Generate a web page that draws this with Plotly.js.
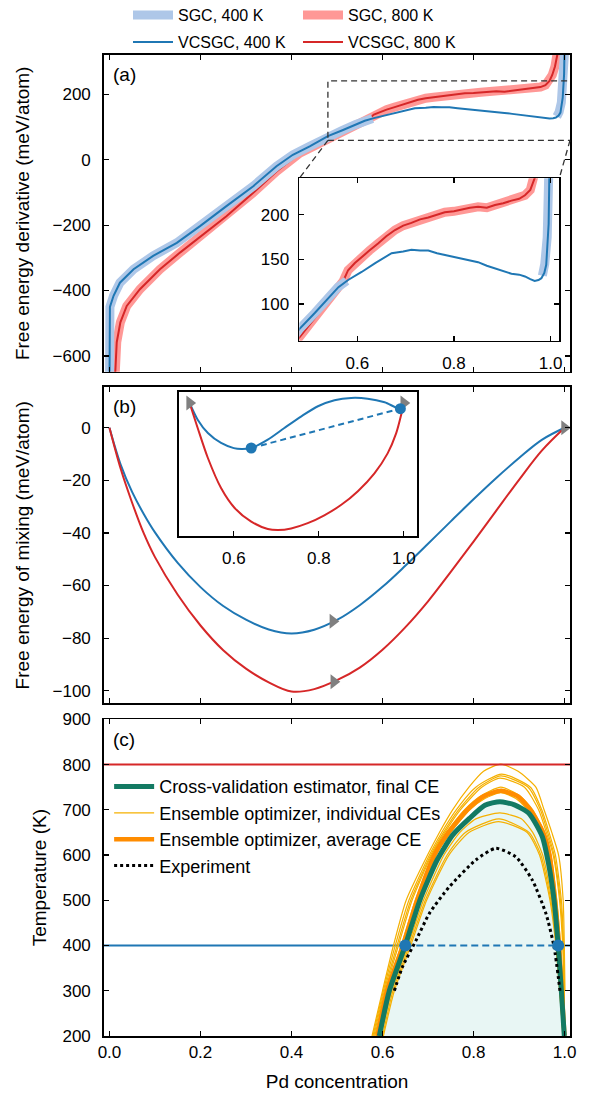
<!DOCTYPE html>
<html><head><meta charset="utf-8">
<script src="https://cdn.plot.ly/plotly-3.0.1.min.js"></script>
<style>body{margin:0;background:#fff}#chart{width:589px;height:1093px}</style>
</head><body><div id="chart"></div>
<script>
// ---------- Panel (a): free energy derivative (meV/atom) vs Pd concentration
const vc400_x = [0.0, 0.001, 0.009, 0.023, 0.053, 0.096, 0.148, 0.199, 0.257, 0.316, 0.367, 0.403, 0.44, 0.48, 0.512, 0.54, 0.561, 0.581, 0.609, 0.637, 0.671, 0.695, 0.712, 0.73, 0.747, 0.765, 0.781, 0.80, 0.816, 0.833, 0.85, 0.868, 0.885, 0.902, 0.919, 0.935, 0.947, 0.958, 0.967, 0.975, 0.981, 0.987, 0.991, 0.996, 0.999, 1.0];
const vc400_y = [-700, -450, -416, -376, -335, -294, -254, -203, -142, -81, -20, 15, 41, 72, 90, 107, 119, 127, 136, 146, 157, 159, 161, 160, 160, 157, 155, 153, 151, 149, 147, 143, 140, 137, 134, 133, 131, 128, 126, 127, 129, 135, 144, 190, 260, 340];
const sgc400_x = [0.0, 0.001, 0.009, 0.023, 0.053, 0.096, 0.148, 0.199, 0.257, 0.316, 0.367, 0.403, 0.44, 0.48, 0.512, 0.54, 0.56, 0.578, null, 0.983, 0.988, 0.993, 0.997, 1.0];
const sgc400_y = [-700, -450, -416, -376, -335, -294, -254, -203, -142, -81, -20, 15, 41, 72, 90, 107, 119, 126, null, 132, 145, 175, 225, 330];
const vc800_x = [0.011, 0.0125, 0.016, 0.024, 0.038, 0.067, 0.111, 0.155, 0.206, 0.257, 0.316, 0.367, 0.418, 0.45, 0.485, 0.52, 0.55, 0.571, 0.581, 0.595, 0.609, 0.625, 0.643, 0.66, 0.678, 0.695, 0.712, 0.73, 0.747, 0.765, 0.781, 0.80, 0.816, 0.833, 0.85, 0.868, 0.885, 0.902, 0.919, 0.935, 0.947, 0.958, 0.967, 0.973, 0.979, 0.984, 0.99];
const vc800_y = [-700, -645, -558, -497, -447, -396, -335, -284, -228, -173, -101, -36, 20, 42, 66, 90, 110, 126, 138, 146, 153, 160, 168, 176, 183, 188, 191, 195, 197, 200, 203, 204, 206, 208, 209, 208, 211, 213, 216, 218, 222, 228, 241, 259, 285, 320, 380];
const sgc800_x = vc800_x;
const sgc800_y = vc800_y;
const zoomWin_x = [0.48, 1.018];
const zoomWin_y = [59, 241];

// ---------- Panel (b): free energy of mixing (meV/atom)
const fm400_x = [0, 0.025, 0.05, 0.075, 0.1, 0.15, 0.2, 0.25, 0.3, 0.35, 0.4, 0.45, 0.5, 0.55, 0.6, 0.65, 0.7, 0.75, 0.8, 0.85, 0.9, 0.95, 1.0];
const fm400_y = [0, -14.2, -24.5, -32.7, -39.8, -51.4, -60.6, -67.8, -73.0, -76.7, -78.2, -76.8, -73.1, -67.5, -60.5, -52.5, -44.1, -35.6, -27.2, -19.1, -11.5, -4.6, 0];
const fm800_x = [0, 0.025, 0.05, 0.075, 0.1, 0.15, 0.2, 0.25, 0.3, 0.35, 0.4, 0.45, 0.5, 0.55, 0.6, 0.65, 0.7, 0.75, 0.8, 0.85, 0.9, 0.95, 1.0];
const fm800_y = [0, -15.8, -28.6, -40.0, -49.2, -63.5, -75.2, -84.6, -91.6, -96.8, -100.3, -99.4, -96.0, -91.2, -84.4, -75.9, -66.0, -54.8, -43.3, -31.5, -19.8, -8.7, 0];
const fmMark_x = [0.491, 0.493, 1.0];
const fmMark_y = [-73.6, -96.6, 0];
// inset (b): mixing free energy relative to the chord between the triangle markers
const inb400_x = [0.496, 0.515, 0.539, 0.570, 0.60, 0.618, 0.641, 0.680, 0.719, 0.759, 0.798, 0.837, 0.876, 0.915, 0.955, 0.992, 1.0];
const inb400_y = [0, -1.59, -2.86, -3.81, -4.3, -4.38, -4.29, -3.49, -2.38, -1.27, -0.31, 0.26, 0.48, 0.41, 0.07, -0.54, 0];
const inb800_x = [0.496, 0.515, 0.539, 0.570, 0.602, 0.641, 0.680, 0.704, 0.735, 0.774, 0.813, 0.853, 0.892, 0.931, 0.962, 0.982, 0.994, 1.0];
const inb800_y = [0, -2.38, -5.24, -8.1, -10, -11.3, -12.0, -12.1, -11.95, -11.45, -10.7, -9.7, -8.4, -6.7, -4.8, -2.9, -1.1, 0];
const inbTan_x = [0.641, 0.992];
const inbTan_y = [-4.29, -0.54];
const inbMark_x = [0.496, 1.0];
const inbMark_y = [0, 0];
const inb_xRange = [0.470, 1.0315];
const inb_yRange = [-12.67, 1.02];

// ---------- Panel (c): phase diagram, temperature (K)
const simTemps = [400, 800];
const gap400_x = [0.650, 0.986];
const ce_x = [0.593, 0.615, 0.650, 0.682, 0.720, 0.754, 0.791, 0.825, 0.858, 0.890, 0.922, 0.951, 0.965, 0.977, 0.986, 0.993, 0.9995];
const ce_y = [200, 300, 400, 500, 589, 644, 681, 710, 718, 711, 692, 641, 580, 500, 400, 300, 200];
const avg_x = [0.589, 0.610, 0.645, 0.676, 0.714, 0.745, 0.786, 0.822, 0.860, 0.897, 0.925, 0.953, 0.967, 0.979, 0.988, 0.994, 0.9998];
const avg_y = [200, 300, 400, 500, 600, 650, 700, 730, 742, 730, 700, 650, 600, 500, 400, 300, 200];
const ind1_x = [0.577, 0.600, 0.624, 0.652, 0.699, 0.725, 0.754, 0.790, 0.822, 0.860, 0.898, 0.937, 0.955, 0.972, 0.987, 0.997, 0.9995, 1.001];
const ind1_y = [200, 300, 400, 500, 600, 650, 700, 750, 785, 801, 785, 750, 700, 650, 600, 500, 400, 300];
const ind2_x = [0.579, 0.602, 0.628, 0.658, 0.703, 0.730, 0.762, 0.805, 0.862, 0.925, 0.950, 0.966, 0.980, 0.993, 0.998, 0.9995, 1.0];
const ind2_y = [200, 300, 400, 500, 600, 650, 700, 750, 779, 750, 700, 650, 600, 500, 400, 300, 200];
const ind3_x = [0.581, 0.604, 0.632, 0.662, 0.706, 0.734, 0.767, 0.812, 0.860, 0.920, 0.947, 0.963, 0.977, 0.991, 0.997, 0.999, 1.0];
const ind3_y = [200, 300, 400, 500, 600, 650, 700, 750, 775, 750, 700, 650, 600, 500, 400, 300, 200];
const ind4_x = [0.583, 0.606, 0.635, 0.665, 0.708, 0.737, 0.771, 0.818, 0.858, 0.912, 0.943, 0.960, 0.975, 0.989, 0.996, 0.999, 1.0];
const ind4_y = [200, 300, 400, 500, 600, 650, 700, 750, 770, 750, 700, 650, 600, 500, 400, 300, 200];
const ind5_x = [0.586, 0.608, 0.641, 0.672, 0.711, 0.740, 0.780, 0.815, 0.860, 0.903, 0.930, 0.956, 0.970, 0.983, 0.991, 0.996, 0.9998];
const ind5_y = [200, 300, 400, 500, 600, 650, 700, 730, 750, 730, 700, 650, 600, 500, 400, 300, 200];
const ind6_x = [0.588, 0.611, 0.646, 0.678, 0.716, 0.747, 0.789, 0.828, 0.862, 0.895, 0.922, 0.950, 0.965, 0.978, 0.987, 0.994, 0.9995];
const ind6_y = [200, 300, 400, 500, 600, 650, 700, 730, 745, 730, 700, 650, 600, 500, 400, 300, 200];
const ind7_x = [0.590, 0.612, 0.648, 0.680, 0.718, 0.750, 0.792, 0.825, 0.860, 0.893, 0.918, 0.948, 0.963, 0.977, 0.986, 0.993, 0.9995];
const ind7_y = [200, 300, 400, 500, 600, 650, 700, 725, 738, 725, 700, 650, 600, 500, 400, 300, 200];
const ind8_x = [0.597, 0.620, 0.656, 0.690, 0.735, 0.770, 0.805, 0.858, 0.905, 0.930, 0.952, 0.972, 0.983, 0.991, 0.998];
const ind8_y = [200, 300, 400, 500, 600, 650, 680, 693, 680, 650, 600, 500, 400, 300, 200];
const ind9_x = [0.600, 0.623, 0.659, 0.694, 0.742, 0.782, 0.856, 0.922, 0.948, 0.970, 0.982, 0.990, 0.997];
const ind9_y = [200, 300, 400, 500, 600, 650, 680, 650, 600, 500, 400, 300, 200];
const ind10_x = [0.602, 0.626, 0.662, 0.697, 0.746, 0.790, 0.855, 0.918, 0.945, 0.968, 0.981, 0.989, 0.997];
const ind10_y = [200, 300, 400, 500, 600, 650, 674, 650, 600, 500, 400, 300, 200];
const exp_x = [0.626, 0.644, 0.674, 0.703, 0.747, 0.805, 0.849, 0.893, 0.929, 0.959, 0.977, 0.990];
const exp_y = [300, 353, 412, 471, 530, 589, 615, 596, 545, 471, 397, 300];

const indiv_x = [ind1_x, ind2_x, ind3_x, ind4_x, ind5_x, ind6_x, ind7_x, ind8_x, ind9_x, ind10_x];
const indiv_y = [ind1_y, ind2_y, ind3_y, ind4_y, ind5_y, ind6_y, ind7_y, ind8_y, ind9_y, ind10_y];

// ---------- styling
const FONT = 'Liberation Sans, Arial, Helvetica, sans-serif';
const C_LB = '#aec7e8', C_B = '#1f77b4', C_LR = '#ff9896', C_R = '#d62728';
const C_GREEN = '#137a63', C_IND = '#f5b000', C_AVG = '#ff8c00', C_GRAY = '#808080';
const XR = [-0.012, 1.012];
const DOM = {
  a: [0.6772, 1.0], b: [0.3391, 0.6613], c: [0.0, 0.3228],
  ax: [0.4191, 0.977], ay: [0.7088, 0.8743],
  bx: [0.160, 0.672], by: [0.5097, 0.6562]
};

function ax(extra) {
  return Object.assign({
    showline: true, linecolor: '#000', linewidth: 1.8, mirror: 'ticks',
    ticks: 'inside', ticklen: 5, tickwidth: 1.2, tickcolor: '#000',
    showgrid: false, zeroline: false, tickfont: {size: 17}
  }, extra);
}

const traces = [];
function addA(xa, ya, main) {
  traces.push({x: sgc800_x, y: sgc800_y, xaxis: xa, yaxis: ya, mode: 'lines', line: {color: C_LR, width: 9},
    name: 'SGC, 800 K', legend: 'legend', legendrank: 2, showlegend: main});
  traces.push({x: vc800_x, y: vc800_y, xaxis: xa, yaxis: ya, mode: 'lines', line: {color: C_R, width: 2},
    name: 'VCSGC, 800 K', legend: 'legend3', legendrank: 2, showlegend: main});
  traces.push({x: sgc400_x, y: sgc400_y, xaxis: xa, yaxis: ya, mode: 'lines', line: {color: C_LB, width: 9},
    name: 'SGC, 400 K', legend: 'legend', legendrank: 1, showlegend: main, connectgaps: false});
  traces.push({x: vc400_x, y: vc400_y, xaxis: xa, yaxis: ya, mode: 'lines', line: {color: C_B, width: 2},
    name: 'VCSGC, 400 K', legend: 'legend3', legendrank: 1, showlegend: main});
}
addA('x', 'y', true);

// Panel (b) main
traces.push({x: fm400_x, y: fm400_y, xaxis: 'x2', yaxis: 'y2', mode: 'lines', line: {color: C_B, width: 2, shape: 'spline', smoothing: 1}, showlegend: false});
traces.push({x: fm800_x, y: fm800_y, xaxis: 'x2', yaxis: 'y2', mode: 'lines', line: {color: C_R, width: 2, shape: 'spline', smoothing: 1}, showlegend: false});
traces.push({x: fmMark_x, y: fmMark_y, xaxis: 'x2', yaxis: 'y2', mode: 'markers', marker: {symbol: 'triangle-right', size: 13, color: C_GRAY}, showlegend: false});

// Panel (c)
traces.push({x: ce_x, y: ce_y, xaxis: 'x3', yaxis: 'y3', mode: 'lines', fill: 'toself', fillcolor: '#e8f6f4', line: {width: 0, color: 'rgba(0,0,0,0)', shape: 'spline', smoothing: 0.6}, showlegend: false, hoverinfo: 'skip'});
traces.push({x: [XR[0], gap400_x[0]], y: [simTemps[0], simTemps[0]], xaxis: 'x3', yaxis: 'y3', mode: 'lines', line: {color: C_B, width: 2}, showlegend: false});
traces.push({x: [gap400_x[1], XR[1]], y: [simTemps[0], simTemps[0]], xaxis: 'x3', yaxis: 'y3', mode: 'lines', line: {color: C_B, width: 2}, showlegend: false});
traces.push({x: gap400_x, y: [simTemps[0], simTemps[0]], xaxis: 'x3', yaxis: 'y3', mode: 'lines', line: {color: C_B, width: 2, dash: '7px,4px'}, showlegend: false});
indiv_x.forEach(function (xs, i) {
  traces.push({x: xs, y: indiv_y[i], xaxis: 'x3', yaxis: 'y3', mode: 'lines', line: {color: C_IND, width: 1.2, shape: 'spline', smoothing: 0.6},
    name: 'Ensemble optimizer, individual CEs', legend: 'legend2', legendrank: 2, showlegend: i === 0, legendgroup: 'ind'});
});
traces.push({x: XR, y: [simTemps[1], simTemps[1]], xaxis: 'x3', yaxis: 'y3', mode: 'lines', line: {color: C_R, width: 2}, showlegend: false});
traces.push({x: avg_x, y: avg_y, xaxis: 'x3', yaxis: 'y3', mode: 'lines', line: {color: C_AVG, width: 4.5, shape: 'spline', smoothing: 0.6},
  name: 'Ensemble optimizer, average CE', legend: 'legend2', legendrank: 3});
traces.push({x: ce_x, y: ce_y, xaxis: 'x3', yaxis: 'y3', mode: 'lines', line: {color: C_GREEN, width: 5, shape: 'spline', smoothing: 0.6},
  name: 'Cross-validation estimator, final CE', legend: 'legend2', legendrank: 1});
traces.push({x: exp_x, y: exp_y, xaxis: 'x3', yaxis: 'y3', mode: 'lines', line: {color: '#000', width: 3, dash: 'dot', shape: 'spline', smoothing: 0.6},
  name: 'Experiment', legend: 'legend2', legendrank: 4});
traces.push({x: gap400_x, y: [simTemps[0], simTemps[0]], xaxis: 'x3', yaxis: 'y3', mode: 'markers', marker: {color: C_B, size: 12}, showlegend: false});

// Inset (a)
addA('x4', 'y4', false);

// Inset (b)
traces.push({x: inb400_x, y: inb400_y, xaxis: 'x5', yaxis: 'y5', mode: 'lines', line: {color: C_B, width: 2, shape: 'spline', smoothing: 0.8}, showlegend: false});
traces.push({x: inb800_x, y: inb800_y, xaxis: 'x5', yaxis: 'y5', mode: 'lines', line: {color: C_R, width: 2, shape: 'spline', smoothing: 0.8}, showlegend: false});
traces.push({x: inbTan_x, y: inbTan_y, xaxis: 'x5', yaxis: 'y5', mode: 'lines', line: {color: C_B, width: 2, dash: '6px,4px'}, showlegend: false});
traces.push({x: inbMark_x, y: inbMark_y, xaxis: 'x5', yaxis: 'y5', mode: 'markers', marker: {symbol: 'triangle-right', size: 13, color: C_GRAY}, showlegend: false});
traces.push({x: inbTan_x, y: inbTan_y, xaxis: 'x5', yaxis: 'y5', mode: 'markers', marker: {color: C_B, size: 11}, showlegend: false});

// paper-coordinate helper for the zoom connector lines
const ML = 104, MR = 19, MT = 55, MB = 57, W = 589, H = 1093;
function toPaper(v, range, dom) { return dom[0] + (v - range[0]) / (range[1] - range[0]) * (dom[1] - dom[0]); }
const AY = [-648, 320];
const rectBLx = toPaper(zoomWin_x[0], XR, [0, 1]);
const rectBRx = toPaper(Math.min(zoomWin_x[1], XR[1]), XR, [0, 1]);
const rectBy = toPaper(zoomWin_y[0], AY, DOM.a);

const layout = {
  width: W, height: H,
  margin: {l: ML, r: MR, t: MT, b: MB, autoexpand: false},
  paper_bgcolor: '#fff', plot_bgcolor: '#fff',
  font: {family: FONT, size: 17, color: '#000'},
  showlegend: true,
  xaxis: ax({domain: [0, 1], anchor: 'y', range: XR, dtick: 0.2, tick0: 0, showticklabels: false}),
  yaxis: ax({domain: DOM.a, anchor: 'x', range: AY, dtick: 200, tick0: 0, ticklabelstandoff: 8,
    title: {text: 'Free energy derivative (meV/atom)', font: {size: 19}, standoff: 18}}),
  xaxis2: ax({domain: [0, 1], anchor: 'y2', range: XR, dtick: 0.2, tick0: 0, showticklabels: false}),
  yaxis2: ax({domain: DOM.b, anchor: 'x2', range: [-104.8, 15.4], dtick: 20, tick0: 0, ticklabelstandoff: 8,
    title: {text: 'Free energy of mixing (meV/atom)', font: {size: 19}, standoff: 18}}),
  xaxis3: ax({domain: [0, 1], anchor: 'y3', range: XR, dtick: 0.2, tick0: 0, tickformat: '.1f',
    title: {text: 'Pd concentration', font: {size: 19}, standoff: 13}}),
  yaxis3: ax({domain: DOM.c, anchor: 'x3', range: [200, 900], dtick: 100, tick0: 0, ticklabelstandoff: 8,
    title: {text: 'Temperature (K)', font: {size: 19}, standoff: 11}}),
  xaxis4: ax({domain: DOM.ax, anchor: 'y4', range: zoomWin_x, tickvals: [0.6, 0.8, 1.0], tickformat: '.1f', ticklabelstandoff: 6}),
  yaxis4: ax({domain: DOM.ay, anchor: 'x4', range: zoomWin_y, tickvals: [100, 150, 200], ticklabelstandoff: 5}),
  xaxis5: ax({domain: DOM.bx, anchor: 'y5', range: inb_xRange, tickvals: [0.6, 0.8, 1.0], tickformat: '.1f', mirror: true, ticklabelstandoff: 6}),
  yaxis5: ax({domain: DOM.by, anchor: 'x5', range: inb_yRange, showticklabels: false, ticks: '', mirror: true}),
  legend: {orientation: 'h', x: 0.0515, xanchor: 'left', y: 1.058, yanchor: 'top', bgcolor: 'rgba(0,0,0,0)',
    font: {size: 16}, entrywidth: 115, itemwidth: 40, traceorder: 'normal'},
  legend3: {orientation: 'h', x: 0.0515, xanchor: 'left', y: 1.0306, yanchor: 'top', bgcolor: 'rgba(0,0,0,0)',
    font: {size: 16}, entrywidth: 115, itemwidth: 40, traceorder: 'normal'},
  legend2: {orientation: 'v', x: 0.011, xanchor: 'left', y: 0.273, yanchor: 'top', bgcolor: 'rgba(0,0,0,0)',
    font: {size: 18}, itemwidth: 40, traceorder: 'normal', tracegroupgap: 0},
  shapes: [
    {type: 'rect', xref: 'x', yref: 'y', x0: zoomWin_x[0], x1: zoomWin_x[1], y0: zoomWin_y[0], y1: zoomWin_y[1],
      line: {color: '#333', width: 1.3, dash: '6px,4px'}, layer: 'above'},
    {type: 'line', xref: 'paper', yref: 'paper', x0: rectBLx, y0: rectBy, x1: DOM.ax[0], y1: DOM.ay[1],
      line: {color: '#333', width: 1.3, dash: '6px,4px'}},
    {type: 'line', xref: 'paper', yref: 'paper', x0: rectBRx, y0: rectBy, x1: DOM.ax[1], y1: DOM.ay[1],
      line: {color: '#333', width: 1.3, dash: '6px,4px'}}
  ],
  annotations: [
    {text: '(a)', xref: 'x domain', yref: 'y domain', x: 0.043, y: 0.937, xanchor: 'center', yanchor: 'middle', showarrow: false, font: {size: 19}},
    {text: '(b)', xref: 'x2 domain', yref: 'y2 domain', x: 0.043, y: 0.939, xanchor: 'center', yanchor: 'middle', showarrow: false, font: {size: 19}},
    {text: '(c)', xref: 'x3 domain', yref: 'y3 domain', x: 0.043, y: 0.937, xanchor: 'center', yanchor: 'middle', showarrow: false, font: {size: 19}}
  ]
};

Plotly.newPlot('chart', traces, layout, {displayModeBar: false, staticPlot: true});
</script>
</body></html>
